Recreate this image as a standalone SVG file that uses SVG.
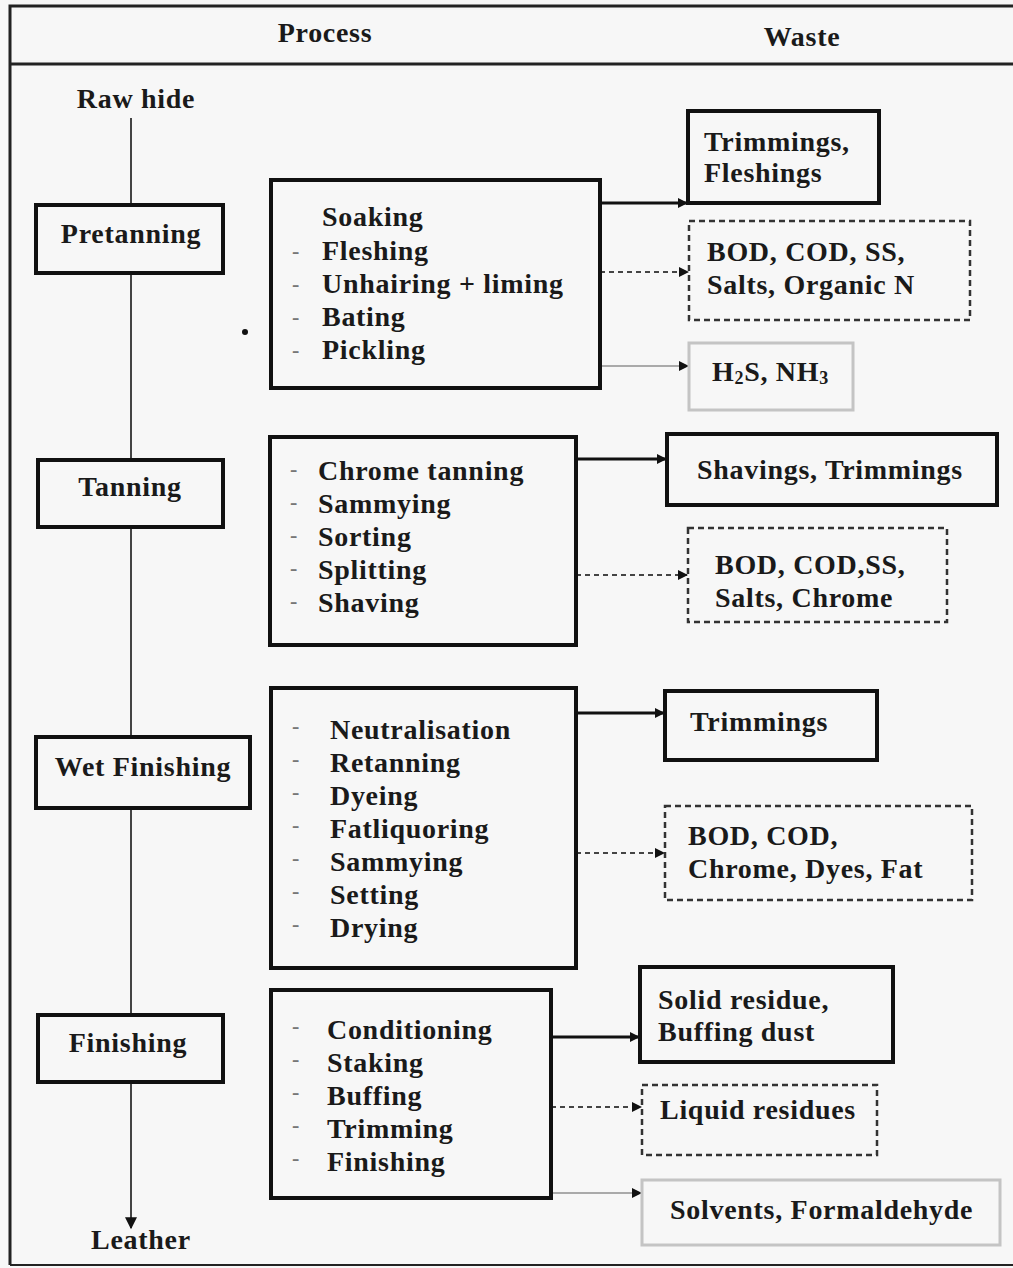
<svg xmlns="http://www.w3.org/2000/svg" width="1013" height="1268" viewBox="0 0 1013 1268">
<style>
text{font-family:"Liberation Serif","Times New Roman",serif;font-weight:bold;font-size:28px;fill:#1a1a1a;letter-spacing:0.7px}
.c{text-anchor:middle}
.dash{fill:#777;font-size:22px}
.box{fill:none;stroke:#111;stroke-width:4}
.dbox{fill:none;stroke:#333;stroke-width:2.5;stroke-dasharray:6 4}
.fbox{fill:none;stroke:#c4c4c4;stroke-width:3}
.vl{stroke:#444;stroke-width:2;fill:none}
.sa{stroke:#111;stroke-width:3;fill:none;marker-end:url(#ah)}
.da{stroke:#444;stroke-width:2;stroke-dasharray:5 4;fill:none;marker-end:url(#ah)}
.fa{stroke:#aaa;stroke-width:2;fill:none;marker-end:url(#ah)}
</style>
<defs>
<marker id="ah" viewBox="0 0 10 10" refX="9" refY="5" markerWidth="12" markerHeight="10" markerUnits="userSpaceOnUse" orient="auto">
<path d="M0,0 L10,5 L0,10 z" fill="#111"/>
</marker>
<marker id="ah2" viewBox="0 0 10 10" refX="9" refY="5" markerWidth="14" markerHeight="12" markerUnits="userSpaceOnUse" orient="auto">
<path d="M0,0 L10,5 L0,10 z" fill="#111"/>
</marker>
</defs>
<rect x="0" y="0" width="1013" height="1268" fill="#f7f7f7"/>
<g id="frame">
<path d="M10,1265 L10,6 L1013,6" fill="none" stroke="#222" stroke-width="3"/>
<path d="M10,64 L1013,64" stroke="#222" stroke-width="3"/>
<path d="M10,1265 L1013,1265" stroke="#222" stroke-width="2"/>
</g>
<g id="header">
<text x="325" y="42" class="c">Process</text>
<text x="802" y="46" class="c">Waste</text>
</g>
<g id="connectors">
<path class="vl" d="M131,118 V205"/>
<path class="vl" d="M131,273 V460"/>
<path class="vl" d="M131,527 V737"/>
<path class="vl" d="M131,808 V1015"/>
<path d="M131,1082 V1228" stroke="#444" stroke-width="2" fill="none" marker-end="url(#ah2)"/>
<path class="sa" d="M600,203 H687"/>
<path class="da" d="M600,272 H688"/>
<path class="fa" d="M600,366 H688"/>
<path class="sa" d="M576,459 H666"/>
<path class="da" d="M576,575 H687"/>
<path class="sa" d="M576,713 H664"/>
<path class="da" d="M576,853 H664"/>
<path class="sa" d="M551,1037 H639"/>
<path class="da" d="M551,1107 H641"/>
<path class="fa" d="M551,1193 H641"/>
</g>
<g id="raw-hide"><text x="136" y="108" class="c">Raw hide</text></g>
<g id="pretanning"><rect class="box" x="36" y="205" width="187" height="68"/><text x="131" y="243" class="c">Pretanning</text></g>
<g id="tanning"><rect class="box" x="38" y="460" width="185" height="67"/><text x="130" y="496" class="c">Tanning</text></g>
<g id="wet-finishing"><rect class="box" x="36" y="737" width="214" height="71"/><text x="143" y="776" class="c">Wet Finishing</text></g>
<g id="finishing"><rect class="box" x="38" y="1015" width="185" height="67"/><text x="128" y="1052" class="c">Finishing</text></g>
<g id="leather"><text x="141" y="1249" class="c">Leather</text></g>
<g id="pretanning-steps">
<rect class="box" x="271" y="180" width="329" height="208"/>
<circle cx="245" cy="332" r="3" fill="#111"/>
<text class="dash" x="292" y="258">-</text><text class="dash" x="292" y="291">-</text><text class="dash" x="292" y="324">-</text><text class="dash" x="292" y="357">-</text>
<text x="322" y="226">Soaking</text>
<text x="322" y="260">Fleshing</text>
<text x="322" y="293">Unhairing + liming</text>
<text x="322" y="326">Bating</text>
<text x="322" y="359">Pickling</text>
</g>
<g id="tanning-steps">
<rect class="box" x="270" y="437" width="306" height="208"/>
<text class="dash" x="290" y="476">-</text><text class="dash" x="290" y="509">-</text><text class="dash" x="290" y="542">-</text><text class="dash" x="290" y="575">-</text><text class="dash" x="290" y="608">-</text>
<text x="318" y="480">Chrome tanning</text>
<text x="318" y="513">Sammying</text>
<text x="318" y="546">Sorting</text>
<text x="318" y="579">Splitting</text>
<text x="318" y="612">Shaving</text>
</g>
<g id="wet-finishing-steps">
<rect class="box" x="271" y="688" width="305" height="280"/>
<text class="dash" x="292" y="733">-</text><text class="dash" x="292" y="766">-</text><text class="dash" x="292" y="799">-</text><text class="dash" x="292" y="832">-</text><text class="dash" x="292" y="865">-</text><text class="dash" x="292" y="898">-</text><text class="dash" x="292" y="931">-</text>
<text x="330" y="739">Neutralisation</text>
<text x="330" y="772">Retanning</text>
<text x="330" y="805">Dyeing</text>
<text x="330" y="838">Fatliquoring</text>
<text x="330" y="871">Sammying</text>
<text x="330" y="904">Setting</text>
<text x="330" y="937">Drying</text>
</g>
<g id="finishing-steps">
<rect class="box" x="271" y="990" width="280" height="208"/>
<text class="dash" x="292" y="1033">-</text><text class="dash" x="292" y="1066">-</text><text class="dash" x="292" y="1099">-</text><text class="dash" x="292" y="1132">-</text><text class="dash" x="292" y="1165">-</text>
<text x="327" y="1039">Conditioning</text>
<text x="327" y="1072">Staking</text>
<text x="327" y="1105">Buffing</text>
<text x="327" y="1138">Trimming</text>
<text x="327" y="1171">Finishing</text>
</g>
<g id="waste-trimmings-fleshings"><rect class="box" x="688" y="111" width="191" height="92"/><text x="704" y="151">Trimmings,</text><text x="704" y="182">Fleshings</text></g>
<g id="waste-bod-pretanning"><rect class="dbox" x="689" y="221" width="281" height="99"/><text x="707" y="261">BOD, COD, SS,</text><text x="707" y="294">Salts, Organic N</text></g>
<g id="waste-gases"><rect class="fbox" x="689" y="343" width="164" height="67"/><text x="712" y="381">H<tspan font-size="18" dy="3">2</tspan><tspan dy="-3">S, NH</tspan><tspan font-size="18" dy="3">3</tspan></text></g>
<g id="waste-shavings"><rect class="box" x="667" y="434" width="330" height="71"/><text x="697" y="479">Shavings, Trimmings</text></g>
<g id="waste-bod-tanning"><rect class="dbox" x="688" y="528" width="259" height="94"/><text x="715" y="574">BOD, COD,SS,</text><text x="715" y="607">Salts, Chrome</text></g>
<g id="waste-trimmings"><rect class="box" x="665" y="691" width="212" height="69"/><text x="690" y="731">Trimmings</text></g>
<g id="waste-bod-wet"><rect class="dbox" x="665" y="806" width="307" height="94"/><text x="688" y="845">BOD, COD,</text><text x="688" y="878">Chrome, Dyes, Fat</text></g>
<g id="waste-solid"><rect class="box" x="640" y="967" width="253" height="95"/><text x="658" y="1009">Solid residue,</text><text x="658" y="1041">Buffing dust</text></g>
<g id="waste-liquid"><rect class="dbox" x="642" y="1085" width="235" height="70"/><text x="660" y="1119">Liquid residues</text></g>
<g id="waste-solvents"><rect class="fbox" x="642" y="1180" width="358" height="65"/><text x="670" y="1219">Solvents, Formaldehyde</text></g>
</svg>
